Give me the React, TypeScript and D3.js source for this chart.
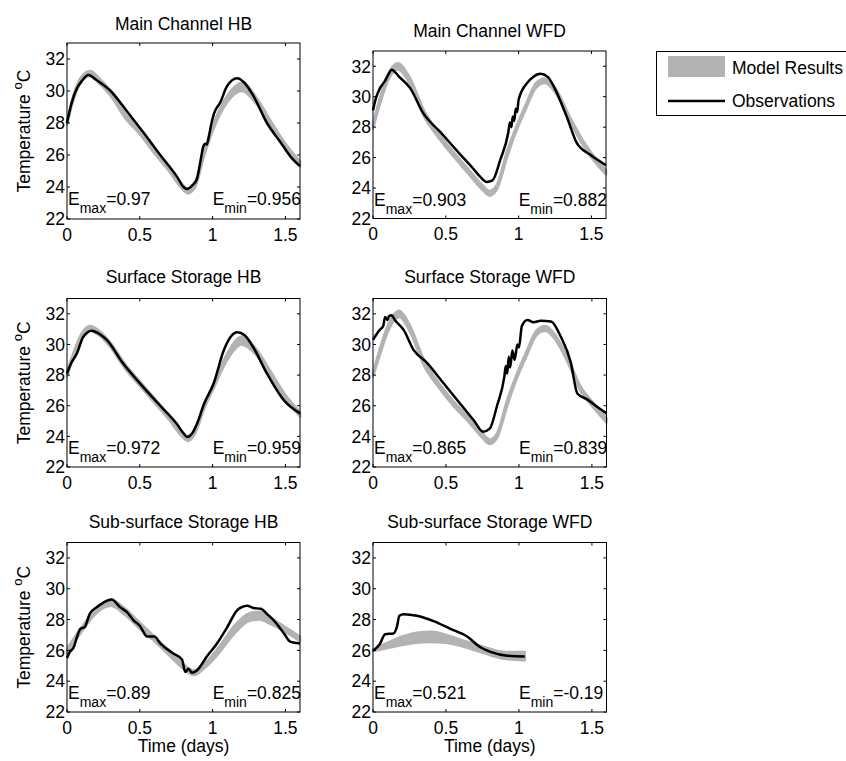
import React from "react";
import * as d3 from "d3";

// ---------------- DATA ----------------
const xTicks = [0, 0.5, 1, 1.5];
const yTicks = [22, 24, 26, 28, 30, 32];
const xDomain = [0, 1.6];
const yDomain = [22, 33];

// Main Channel HB
const mcHB_obsT = [0, 0.03, 0.07, 0.1, 0.147, 0.2, 0.3, 0.41, 0.525, 0.64, 0.755, 0.8, 0.824, 0.86, 0.892, 0.92, 0.935, 0.95, 0.96, 0.975, 0.99, 1.01, 1.053, 1.099, 1.168, 1.22, 1.28, 1.373, 1.466, 1.535, 1.6];
const mcHB_obsV = [28.0, 29.2, 30.2, 30.6, 31.0, 30.7, 30.0, 28.75, 27.4, 26.0, 24.65, 24.0, 23.87, 24.1, 24.5, 25.8, 26.5, 26.7, 26.65, 27.2, 27.9, 28.6, 29.3, 30.3, 30.8, 30.5, 29.7, 28.0, 26.8, 25.9, 25.3];
const mcHB_modT = [0, 0.05, 0.1, 0.16, 0.22, 0.3, 0.4, 0.5, 0.6, 0.7, 0.78, 0.83, 0.88, 0.94, 1.0, 1.1, 1.2, 1.3, 1.4, 1.5, 1.6];
const mcHB_modLo = [27.9, 29.6, 30.6, 30.95, 30.5, 29.7, 28.3, 27.3, 26.1, 25.0, 24.0, 23.6, 24.0, 25.9, 27.5, 29.3, 30.0, 29.2, 27.8, 26.4, 25.3];
const mcHB_modHi = [28.1, 29.9, 30.9, 31.25, 30.8, 30.0, 28.6, 27.6, 26.4, 25.3, 24.3, 23.9, 24.3, 26.2, 27.8, 29.7, 30.5, 29.6, 28.1, 26.7, 25.6];

// Main Channel WFD
const mcWFD_obsT = [0, 0.02, 0.048, 0.08, 0.105, 0.128, 0.18, 0.255, 0.346, 0.46, 0.6, 0.69, 0.74, 0.78, 0.82, 0.874, 0.93, 0.94, 0.95, 0.96, 0.97, 0.98, 0.99, 1.0, 1.058, 1.1, 1.15, 1.2, 1.24, 1.33, 1.4, 1.49, 1.6];
const mcWFD_obsV = [29.1, 29.9, 30.56, 31.0, 31.45, 31.77, 31.3, 30.56, 28.9, 27.7, 26.2, 25.25, 24.7, 24.4, 24.5, 25.85, 27.7, 28.3, 28.0, 28.7, 28.4, 29.2, 29.0, 29.8, 30.9, 31.3, 31.5, 31.3, 30.7, 28.7, 26.95, 26.2, 25.5];
const mcWFD_modT = [0, 0.05, 0.1, 0.17, 0.25, 0.35, 0.45, 0.55, 0.65, 0.75, 0.8, 0.85, 0.92, 0.97, 1.05, 1.12, 1.18, 1.25, 1.35, 1.45, 1.55, 1.6];
const mcWFD_modLo = [27.9, 29.6, 31.0, 31.8, 30.9, 28.7, 27.3, 26.1, 25.0, 23.9, 23.5, 23.9, 26.0, 27.4, 29.2, 30.6, 30.9, 30.3, 28.4, 26.7, 25.4, 24.9];
const mcWFD_modHi = [28.2, 30.0, 31.4, 32.2, 31.3, 29.1, 27.6, 26.4, 25.3, 24.2, 23.8, 24.2, 26.4, 27.7, 29.5, 30.9, 31.2, 30.6, 28.7, 27.0, 25.7, 25.2];

// Surface Storage HB
const ssHB_obsT = [0, 0.03, 0.067, 0.112, 0.17, 0.22, 0.273, 0.386, 0.525, 0.64, 0.755, 0.8, 0.824, 0.86, 0.892, 0.94, 1.007, 1.076, 1.124, 1.17, 1.22, 1.28, 1.373, 1.49, 1.6];
const ssHB_obsV = [28.1, 28.8, 29.4, 30.5, 30.9, 30.7, 30.3, 28.75, 27.2, 26.0, 24.8, 24.2, 23.96, 24.2, 24.8, 26.1, 27.45, 29.6, 30.5, 30.8, 30.6, 29.8, 28.1, 26.35, 25.5];
const ssHB_modT = [0, 0.05, 0.1, 0.16, 0.22, 0.3, 0.4, 0.5, 0.6, 0.7, 0.78, 0.83, 0.88, 0.95, 1.0, 1.1, 1.2, 1.3, 1.4, 1.5, 1.6];
const ssHB_modLo = [27.9, 29.3, 30.4, 30.9, 30.6, 29.8, 28.4, 27.3, 26.2, 25.1, 24.1, 23.7, 24.2, 26.0, 27.0, 29.0, 30.0, 29.3, 27.9, 26.4, 25.3];
const ssHB_modHi = [28.2, 29.6, 30.7, 31.2, 30.9, 30.1, 28.7, 27.6, 26.5, 25.4, 24.4, 24.0, 24.5, 26.3, 27.3, 29.4, 30.5, 29.7, 28.2, 26.7, 25.6];

// Surface Storage WFD
const ssWFD_obsT = [0, 0.046, 0.07, 0.083, 0.1, 0.11, 0.128, 0.15, 0.21, 0.278, 0.37, 0.485, 0.6, 0.69, 0.755, 0.8, 0.85, 0.9, 0.91, 0.92, 0.93, 0.94, 0.955, 0.97, 0.99, 1.0, 1.02, 1.058, 1.1, 1.15, 1.22, 1.287, 1.356, 1.4, 1.47, 1.54, 1.6];
const ssWFD_obsV = [30.3, 30.95, 31.2, 31.8, 31.6, 31.85, 31.9, 31.6, 30.95, 29.65, 28.8, 27.45, 26.1, 25.05, 24.3, 24.5, 26.0, 27.9, 28.6, 28.1, 29.2, 28.5, 29.6, 29.0, 30.0, 29.8, 31.2, 31.6, 31.45, 31.55, 31.5, 30.5, 28.8, 26.8, 26.4, 25.9, 25.5];
const ssWFD_modT = [0, 0.05, 0.1, 0.18, 0.25, 0.35, 0.45, 0.55, 0.65, 0.75, 0.8, 0.85, 0.92, 0.97, 1.05, 1.12, 1.18, 1.25, 1.35, 1.42, 1.5, 1.6];
const ssWFD_modLo = [27.9, 29.4, 30.8, 31.8, 30.9, 28.6, 27.2, 26.0, 25.0, 23.9, 23.5, 23.9, 26.0, 27.4, 29.2, 30.6, 30.9, 30.3, 28.5, 27.0, 26.0, 24.9];
const ssWFD_modHi = [28.2, 29.8, 31.2, 32.2, 31.3, 29.0, 27.5, 26.3, 25.3, 24.2, 23.8, 24.2, 26.4, 27.7, 29.5, 30.9, 31.2, 30.6, 28.8, 27.3, 26.3, 25.2];

// Sub-surface Storage HB
const subHB_obsT = [0, 0.02, 0.046, 0.07, 0.092, 0.12, 0.158, 0.204, 0.25, 0.307, 0.365, 0.41, 0.457, 0.5, 0.55, 0.6, 0.64, 0.73, 0.79, 0.812, 0.835, 0.858, 0.892, 0.96, 1.03, 1.1, 1.168, 1.2, 1.237, 1.28, 1.33, 1.38, 1.42, 1.49, 1.535, 1.6];
const subHB_obsV = [25.5, 25.9, 26.2, 26.9, 27.4, 27.5, 28.4, 28.8, 29.1, 29.3, 28.8, 28.5, 27.95, 27.6, 26.9, 26.9, 26.45, 25.8, 25.4, 24.6, 24.8, 24.55, 24.7, 25.6, 26.45, 27.5, 28.6, 28.8, 28.9, 28.75, 28.7, 28.3, 27.95, 27.1, 26.55, 26.45];
const subHB_modT = [0, 0.1, 0.2, 0.3, 0.4, 0.5, 0.6, 0.7, 0.8, 0.87, 0.95, 1.05, 1.15, 1.25, 1.32, 1.4, 1.5, 1.6];
const subHB_modLo = [25.8, 27.2, 28.4, 28.9, 28.3, 27.4, 26.6, 25.7, 24.8, 24.4, 24.9, 25.9, 27.1, 27.9, 28.0, 27.7, 27.2, 26.6];
const subHB_modHi = [26.1, 27.5, 28.7, 29.3, 28.7, 27.8, 26.9, 26.0, 25.1, 24.7, 25.2, 26.3, 27.6, 28.4, 28.5, 28.1, 27.5, 26.9];

// Sub-surface Storage WFD
const subWFD_obsT = [0, 0.046, 0.083, 0.14, 0.163, 0.181, 0.21, 0.3, 0.415, 0.53, 0.645, 0.736, 0.805, 0.92, 1.04];
const subWFD_obsV = [25.98, 26.4, 27.05, 27.1, 27.5, 28.25, 28.35, 28.25, 27.9, 27.4, 26.9, 26.2, 25.9, 25.65, 25.6];
const subWFD_modT = [0, 0.1, 0.2, 0.3, 0.4, 0.5, 0.6, 0.7, 0.8, 0.9, 1.04];
const subWFD_modLo = [25.95, 26.15, 26.35, 26.5, 26.55, 26.5, 26.3, 26.0, 25.7, 25.45, 25.35];
const subWFD_modHi = [26.05, 26.5, 26.9, 27.15, 27.2, 27.0, 26.7, 26.4, 26.1, 25.9, 25.9];

const titles = ["Main Channel HB", "Main Channel WFD", "Surface Storage HB", "Surface Storage WFD", "Sub-surface Storage HB", "Sub-surface Storage WFD"];
const eMaxValues = ["0.97", "0.903", "0.972", "0.865", "0.89", "0.521"];
const eMinValues = ["0.956", "0.882", "0.959", "0.839", "0.825", "-0.19"];
const legendLabels = ["Model Results", "Observations"];

const seriesList = [
  { obsT: mcHB_obsT, obsV: mcHB_obsV, modT: mcHB_modT, modLo: mcHB_modLo, modHi: mcHB_modHi },
  { obsT: mcWFD_obsT, obsV: mcWFD_obsV, modT: mcWFD_modT, modLo: mcWFD_modLo, modHi: mcWFD_modHi },
  { obsT: ssHB_obsT, obsV: ssHB_obsV, modT: ssHB_modT, modLo: ssHB_modLo, modHi: ssHB_modHi },
  { obsT: ssWFD_obsT, obsV: ssWFD_obsV, modT: ssWFD_modT, modLo: ssWFD_modLo, modHi: ssWFD_modHi },
  { obsT: subHB_obsT, obsV: subHB_obsV, modT: subHB_modT, modLo: subHB_modLo, modHi: subHB_modHi },
  { obsT: subWFD_obsT, obsV: subWFD_obsV, modT: subWFD_modT, modLo: subWFD_modLo, modHi: subWFD_modHi },
];

// ---------------- LAYOUT ----------------
const layout = [
  { l: 67, r: 300, t: 43, b: 219, titleY: 30, yLabel: true, xLabel: false },
  { l: 373, r: 606, t: 51, b: 218.5, titleY: 37, yLabel: false, xLabel: false },
  { l: 67, r: 300, t: 298.5, b: 467, titleY: 283, yLabel: true, xLabel: false },
  { l: 373, r: 606.5, t: 298.5, b: 467, titleY: 283, yLabel: false, xLabel: false },
  { l: 67, r: 300, t: 542.5, b: 712, titleY: 528, yLabel: true, xLabel: true },
  { l: 373, r: 606.5, t: 542.5, b: 712, titleY: 528, yLabel: false, xLabel: true },
];

const FONT = "'Liberation Sans', Arial, Helvetica, sans-serif";
const GRAY = "#b3b3b3";
const FS = 17.5;

function Panel({ idx }: { idx: number }) {
  const L = layout[idx];
  const s = seriesList[idx];
  const x = d3.scaleLinear().domain(xDomain).range([L.l, L.r]);
  const y = d3.scaleLinear().domain(yDomain).range([L.b, L.t]);
  const tick = 3;

  const modData = s.modT.map((t, i) => ({ t, lo: s.modLo[i], hi: s.modHi[i] }));
  const obsData = s.obsT.map((t, i) => ({ t, v: s.obsV[i] }));

  const area = d3
    .area<any>()
    .x((d) => x(d.t))
    .y0((d) => y(d.lo))
    .y1((d) => y(d.hi))
    .curve(d3.curveMonotoneX);
  const line = d3
    .line<any>()
    .x((d) => x(d.t))
    .y((d) => y(d.v))
    .curve(d3.curveMonotoneX);

  const cx = (L.l + L.r) / 2;
  const cy = (L.t + L.b) / 2;
  const eY = y(22.85);

  return (
    <g fontFamily={FONT}>
      <path d={area(modData) || ""} fill={GRAY} stroke={GRAY} strokeWidth={2.5} strokeLinejoin="round" />
      <path d={line(obsData) || ""} fill="none" stroke="#000" strokeWidth={2.5} strokeLinejoin="round" />
      {/* box */}
      <rect x={L.l} y={L.t} width={L.r - L.l} height={L.b - L.t} fill="none" stroke="#000" strokeWidth={1} />
      {/* x ticks */}
      {xTicks.map((v) => (
        <g key={"x" + v}>
          <line x1={x(v)} x2={x(v)} y1={L.b} y2={L.b - tick} stroke="#000" />
          <line x1={x(v)} x2={x(v)} y1={L.t} y2={L.t + tick} stroke="#000" />
          <text x={x(v)} y={L.b + 21.5} fontSize={FS} textAnchor="middle" fill="#000">
            {String(v)}
          </text>
        </g>
      ))}
      {/* y ticks */}
      {yTicks.map((v) => (
        <g key={"y" + v}>
          <line x1={L.l} x2={L.l + tick} y1={y(v)} y2={y(v)} stroke="#000" />
          <line x1={L.r} x2={L.r - tick} y1={y(v)} y2={y(v)} stroke="#000" />
          <text x={L.l - 2} y={y(v)} dy="0.36em" fontSize={FS} textAnchor="end" fill="#000">
            {String(v)}
          </text>
        </g>
      ))}
      {/* title */}
      <text x={cx} y={L.titleY} fontSize={FS} textAnchor="middle" fill="#000">
        {titles[idx]}
      </text>
      {/* E labels */}
      <text x={x(0) + 1} y={eY} fontSize={FS} fill="#000">
        <tspan>E</tspan>
        <tspan fontSize={14} dy={8}>max</tspan>
        <tspan dy={-8}>={eMaxValues[idx]}</tspan>
      </text>
      <text x={x(1)} y={eY} fontSize={FS} fill="#000">
        <tspan>E</tspan>
        <tspan fontSize={14} dy={8}>min</tspan>
        <tspan dy={-8}>={eMinValues[idx]}</tspan>
      </text>
      {L.yLabel && (
        <text transform={`translate(30,${cy}) rotate(-90)`} fontSize={FS} textAnchor="middle" fill="#000">
          <tspan>Temperature </tspan>
          <tspan fontSize={13} dy={-8}>o</tspan>
          <tspan dy={8}>C</tspan>
        </text>
      )}
      {L.xLabel && (
        <text x={cx} y={L.b + 40} fontSize={FS} textAnchor="middle" fill="#000">
          Time (days)
        </text>
      )}
    </g>
  );
}

function Legend() {
  return (
    <g fontFamily={FONT}>
      <rect x={656.5} y={51.5} width={300} height={64} fill="#fff" stroke="#000" strokeWidth={1} />
      <rect x={668} y={56} width={57} height={21} fill={GRAY} />
      <text x={732} y={74} fontSize={FS} fill="#000">
        {legendLabels[0]}
      </text>
      <line x1={668} x2={725} y1={101} y2={101} stroke="#000" strokeWidth={2.5} />
      <text x={732} y={107} fontSize={FS} fill="#000">
        {legendLabels[1]}
      </text>
    </g>
  );
}

export default function App() {
  return (
    <svg
      width={846}
      height={761}
      viewBox="0 0 846 761"
      style={{ position: "absolute", left: 0, top: 0, background: "#fff" }}
    >
      <rect x={0} y={0} width={846} height={761} fill="#fff" />
      {layout.map((_, i) => (
        <Panel key={i} idx={i} />
      ))}
      <Legend />
    </svg>
  );
}
